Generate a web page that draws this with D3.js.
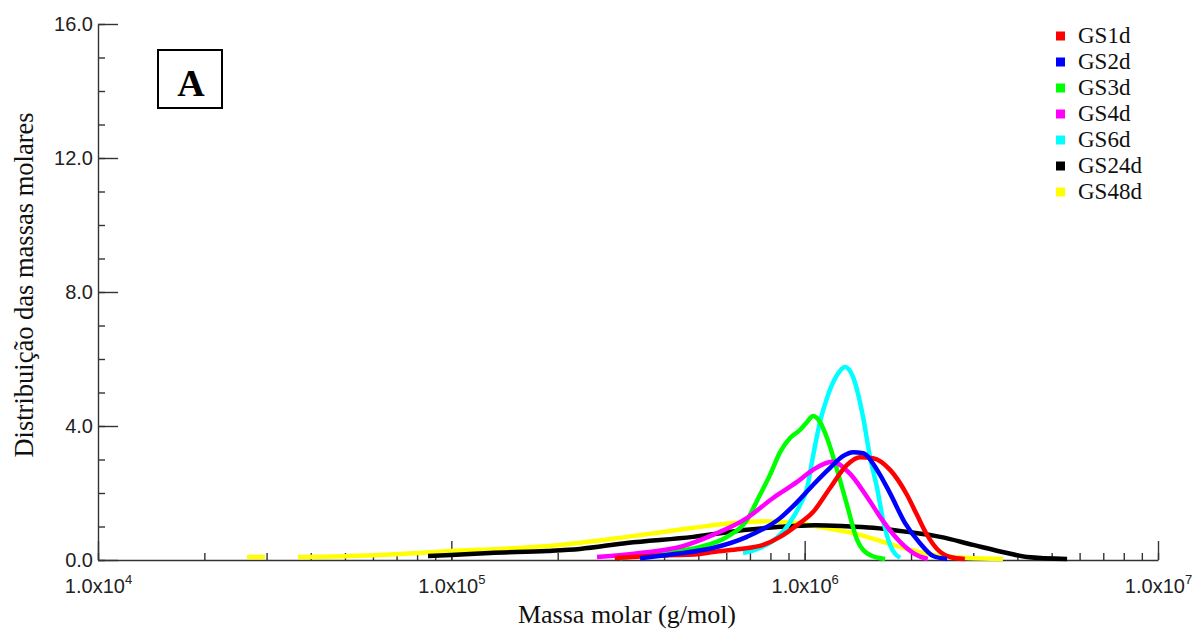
<!DOCTYPE html>
<html>
<head>
<meta charset="utf-8">
<script src="https://cdn.jsdelivr.net/npm/d3@7"></script>
<style>
  body { margin: 0; background: #fff; }
</style>
</head>
<body>
<svg></svg>
<script>
// molar mass (g/mol) vs distribution
const gs1d = [[2.9e5,0.06],[3.65e5,0.12],[5.06e5,0.18],[5.5e5,0.24],[6.56e5,0.33],[7.63e5,0.45],[8.52e5,0.69],[9.52e5,1.04],[1.056e6,1.43],[1.18e6,2.15],[1.318e6,2.84],[1.435e6,3.07],[1.562e6,3.04],[1.745e6,2.69],[1.949e6,1.94],[2.08e6,1.34],[2.22e6,0.75],[2.37e6,0.33],[2.58e6,0.09],[2.84e6,0.03]]
const gs2d = [[3.42e5,0.05],[4.44e5,0.2],[5.5e5,0.36],[6.86e5,0.69],[8.52e5,1.25],[9.52e5,1.73],[1.056e6,2.24],[1.18e6,2.75],[1.283e6,3.10],[1.371e6,3.22],[1.463e6,3.19],[1.603e6,2.69],[1.745e6,1.99],[1.924e6,1.10],[2.12e6,0.5],[2.31e6,0.12],[2.53e6,0.03]]
const gs3d = [[3.0e5,0.05],[3.65e5,0.18],[5.06e5,0.39],[6.03e5,0.69],[6.86e5,1.19],[7.47e5,1.94],[7.98e5,2.54],[8.52e5,3.22],[9.09e5,3.64],[9.7e5,3.88],[1.016e6,4.12],[1.056e6,4.30],[1.105e6,4.12],[1.157e6,3.64],[1.235e6,2.69],[1.318e6,1.64],[1.407e6,0.60],[1.531e6,0.15],[1.689e6,0.03]]
const gs4d = [[2.585e5,0.09],[3.42e5,0.21],[4.44e5,0.39],[5.5e5,0.75],[6.86e5,1.25],[8.14e5,1.85],[9.52e5,2.33],[1.056e6,2.69],[1.195e6,2.93],[1.345e6,2.57],[1.502e6,1.88],[1.667e6,1.16],[1.862e6,0.54],[2.05e6,0.18],[2.23e6,0.03]]
const gs6d = [[6.69e5,0.21],[7.47e5,0.36],[8.52e5,0.75],[9.09e5,1.13],[9.7e5,1.64],[1.016e6,2.15],[1.056e6,3.10],[1.105e6,4.12],[1.157e6,4.84],[1.235e6,5.52],[1.301e6,5.76],[1.371e6,5.46],[1.463e6,4.27],[1.531e6,3.07],[1.603e6,2.15],[1.667e6,1.19],[1.745e6,0.45],[1.862e6,0.06]]
const gs24d = [[8.59e4,0.12],[1e5,0.15],[1.287e5,0.21],[1.87e5,0.27],[2.31e5,0.33],[3.14e5,0.51],[4.83e5,0.69],[6.86e5,0.90],[8.52e5,0.99],[1.07e6,1.04],[1.301e6,1.01],[1.562e6,0.96],[1.949e6,0.84],[2.42e6,0.69],[3.0e6,0.45],[3.74e6,0.21],[4.26e6,0.09],[5.53e6,0.03]]
const gs48d = [[2.64e4,0.09],[2.97e4,0.09],[3.3e4,null],[3.68e4,0.09],[5.17e4,0.12],[7.16e4,0.18],[1e5,0.27],[1.373e5,0.33],[2.03e5,0.45],[3.14e5,0.69],[4.83e5,0.96],[6.15e5,1.10],[7.73e5,1.16],[9.52e5,1.10],[1.18e6,0.93],[1.435e6,0.75],[1.667e6,0.54],[1.949e6,0.33],[2.31e6,0.15],[2.88e6,0.06],[3.64e6,0.03]]

const seriesNames = ['GS1d', 'GS2d', 'GS3d', 'GS4d', 'GS6d', 'GS24d', 'GS48d']
const seriesData = [gs1d, gs2d, gs3d, gs4d, gs6d, gs24d, gs48d]
const seriesColors = ['#ff0000', '#0000ff', '#00ff00', '#ff00ff', '#00ffff', '#000000', '#ffff00']
const drawOrder = [6, 5, 4, 2, 3, 0, 1]

const xMajorTicks = [1e4, 1e5, 1e6, 1e7]
const yMajorTicks = [0, 4, 8, 12, 16]

// size
const svgWidth = 1197
const svgHeight = 631
const plotLeft = 98, plotRight = 1158, plotTop = 24, plotBottom = 560

const sans = "'Liberation Sans', Arial, sans-serif"
const serif = "'Liberation Serif', 'Times New Roman', serif"

const svg = d3.select('svg')
.attr('width', svgWidth)
.attr('height', svgHeight)

const xScale = d3.scaleLog()
.domain([1e4, 1e7])
.range([plotLeft, plotRight])

const yScale = d3.scaleLinear()
.domain([0, 16])
.range([plotBottom, plotTop])

// x axis: minor ticks, then major ones with labels
const xMinor = d3.axisBottom(xScale)
.tickValues(xScale.ticks())
.tickSize(-7)
.tickSizeOuter(0)
.tickFormat('')
const gxMinor = svg.append('g').attr('transform', 'translate(0,' + plotBottom + ')').call(xMinor)
gxMinor.select('.domain').remove()

const xMajor = d3.axisBottom(xScale)
.tickValues(xMajorTicks)
.tickSize(-19)
.tickSizeOuter(0)
const gxMajor = svg.append('g').attr('transform', 'translate(0,' + plotBottom + ')').call(xMajor)
gxMajor.selectAll('.tick text').each(function(d) {
    const t = d3.select(this)
    t.text(null).attr('y', 33).attr('dy', null)
    t.append('tspan').text('1.0x10')
    t.append('tspan').text(Math.round(Math.log10(d))).attr('font-size', 13).attr('dy', -9)
})

// y axis
const yMinor = d3.axisLeft(yScale)
.tickValues(d3.range(0, 17))
.tickSize(-7)
.tickSizeOuter(0)
.tickFormat('')
const gyMinor = svg.append('g').attr('transform', 'translate(' + plotLeft + ',0)').call(yMinor)
gyMinor.select('.domain').remove()

const yMajor = d3.axisLeft(yScale)
.tickValues(yMajorTicks)
.tickSize(-20)
.tickSizeOuter(0)
.tickPadding(5)
.tickFormat(d3.format('.1f'))
svg.append('g').attr('transform', 'translate(' + plotLeft + ',0)').call(yMajor)

svg.selectAll('.domain, .tick line').attr('stroke', '#333').attr('stroke-width', 1.4)
svg.selectAll('.tick text').attr('fill', '#222')
svg.selectAll('g').filter(function() { return this.parentNode.tagName === 'svg' })
.attr('font-family', sans).attr('font-size', 20)

// curves
const line = d3.line()
.defined(function(d) { return d[1] != null })
.x(function(d) { return xScale(d[0]) })
.y(function(d) { return yScale(d[1]) })
.curve(d3.curveMonotoneX)

svg.append('g').selectAll('path')
.data(drawOrder)
.enter()
.append('path')
.attr('d', function(i) { return line(seriesData[i]) })
.attr('fill', 'none')
.attr('stroke', function(i) { return seriesColors[i] })
.attr('stroke-width', 4.5)
.attr('stroke-linejoin', 'round')

// legend
const legend = svg.append('g').selectAll('g')
.data(seriesNames)
.enter()
.append('g')
.attr('transform', function(d, i) { return 'translate(1056,' + (36 + i * 26) + ')' })
legend.append('rect')
.attr('x', 0).attr('y', -4.5)
.attr('width', 9).attr('height', 9)
.attr('fill', function(d, i) { return seriesColors[i] })
legend.append('text')
.attr('x', 22).attr('y', 7)
.attr('font-family', serif).attr('font-size', 23)
.attr('fill', '#111')
.text(function(d) { return d })

// panel label
svg.append('rect')
.attr('x', 158).attr('y', 50).attr('width', 64).attr('height', 58)
.attr('fill', 'none').attr('stroke', '#000').attr('stroke-width', 2)
svg.append('text')
.attr('x', 191).attr('y', 96)
.attr('text-anchor', 'middle')
.attr('font-family', serif).attr('font-size', 38).attr('font-weight', 'bold')
.text('A')

// axis titles
svg.append('text')
.attr('x', 627).attr('y', 623)
.attr('text-anchor', 'middle')
.attr('font-family', serif).attr('font-size', 26)
.attr('fill', '#111')
.text('Massa molar (g/mol)')

svg.append('text')
.attr('transform', 'translate(33,285) rotate(-90)')
.attr('text-anchor', 'middle')
.attr('font-family', serif).attr('font-size', 26.5)
.attr('fill', '#111')
.text('Distribuição das massas molares')
</script>
</body>
</html>
